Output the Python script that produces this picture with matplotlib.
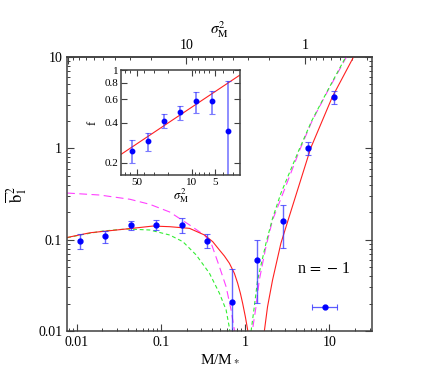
import numpy as np
import matplotlib
matplotlib.use('Agg')
import matplotlib.pyplot as plt
from matplotlib.ticker import FixedLocator, NullFormatter, FixedFormatter, LogLocator

plt.rcParams['font.family'] = ['Liberation Serif', 'DejaVu Serif']
plt.rcParams['mathtext.fontset'] = 'stix'

# --- main panel: measured points (M/M*, b1^2, lower, upper) ---
m_pts = [0.0109, 0.0216, 0.0436, 0.0868, 0.175, 0.348, 0.696, 1.387, 2.79, 5.61, 11.2]
b_pts = [0.0975, 0.109, 0.145, 0.146, 0.145, 0.0975, 0.0209, 0.0599, 0.16, 1.016, 3.62]
b_lo = [0.0784, 0.0919, 0.128, 0.128, 0.117, 0.0804, 0.004, 0.0201, 0.0804, 0.845, 3.03]
b_hi = [0.116, 0.125, 0.161, 0.163, 0.171, 0.116, 0.048, 0.100, 0.24, 1.18, 4.24]

# resolution marker (horizontal bar)
res_m, res_b = 8.78, 0.0182
res_lo, res_hi = 6.26, 12.3

# --- model curves (two branches each) ---
red_m1 = [0.00762, 0.01425, 0.0387, 0.080, 0.126, 0.217, 0.327, 0.410, 0.492, 0.564,
          0.647, 0.741, 0.811, 0.873, 0.929, 1.0, 1.065, 1.10]
red_b1 = [0.1056, 0.119, 0.131, 0.141, 0.1387, 0.133, 0.1125, 0.0950, 0.0771, 0.0662,
          0.0551, 0.0428, 0.0333, 0.0259, 0.0201, 0.01435, 0.0103, 0.007]
red_m2 = [1.62, 1.678, 1.836, 2.105, 2.645, 3.31, 5.99, 10.8, 19.3, 25.0]
red_b2 = [0.006, 0.0098, 0.01845, 0.0361, 0.0912, 0.177, 1.01, 3.65, 10.0, 15.0]

grn_m1 = [0.00762, 0.01086, 0.0205, 0.0387, 0.0731, 0.126, 0.181, 0.261, 0.375, 0.492, 0.591, 0.647, 0.68]
grn_b1 = [0.105, 0.1125, 0.1245, 0.131, 0.1276, 0.1125, 0.0951, 0.0679, 0.0428, 0.0259, 0.0170, 0.0108, 0.007]
grn_m2 = [1.12, 1.168, 1.278, 1.398, 1.758, 2.105, 2.645, 4.40, 6.15, 9.5, 15.6, 20.0]
grn_b2 = [0.006, 0.0098, 0.01845, 0.0361, 0.0912, 0.171, 0.322, 0.99, 2.0, 4.3, 10.0, 15.0]

mag_m1 = [0.00762, 0.0187, 0.0424, 0.0731, 0.126, 0.217, 0.327, 0.393, 0.492, 0.591, 0.677, 0.741, 0.77]
mag_b1 = [0.324, 0.308, 0.277, 0.244, 0.201, 0.145, 0.112, 0.0912, 0.0506, 0.0305, 0.0170, 0.0103, 0.007]
mag_m2 = [1.17, 1.21, 1.339, 1.465, 1.758, 2.105, 2.74, 4.45, 6.2, 9.6, 15.8, 20.0]
mag_b2 = [0.006, 0.01, 0.01845, 0.0361, 0.0838, 0.164, 0.305, 0.97, 1.99, 4.3, 9.9, 15.0]

# top axis: sigma_M^2 as function of M/M*
sig_slope = 0.71
sig_logm1 = 0.7065   # log10(M/M*) where sigma^2 = 1

# --- inset data ---
s2_pts = [57.8, 36.2, 22.7, 14.2, 8.9, 5.57, 3.49]
f_pts = [0.246, 0.291, 0.415, 0.480, 0.581, 0.581, 0.347]
f_lo = [0.198, 0.245, 0.363, 0.420, 0.471, 0.466, 0.05]
f_hi = [0.295, 0.333, 0.463, 0.538, 0.686, 0.695, 0.826]
fit_s2 = [79.1, 2.43]
fit_f = [0.231, 0.917]

BLUE = '#0000ff'
RED = '#ff2020'
GREEN = '#33ee33'
MAG = '#ff40ff'
SPINE = '0.25'

fig = plt.figure(figsize=(4.36, 3.91), dpi=100)
ax = fig.add_axes([67/436, 60/391, 305/436, 274/391])
ax.set_xscale('log')
ax.set_yscale('log')
ax.set_xlim(0.0076, 32)
ax.set_ylim(0.01, 10)

lw = 0.8
ax.plot(mag_m1, mag_b1, color=MAG, lw=lw, dashes=(7, 4))
ax.plot(mag_m2, mag_b2, color=MAG, lw=lw, dashes=(7, 4))
ax.plot(grn_m1, grn_b1, color=GREEN, lw=lw, dashes=(3.5, 2.5))
ax.plot(grn_m2, grn_b2, color=GREEN, lw=lw, dashes=(3.5, 2.5))
ax.plot(red_m1, red_b1, color=RED, lw=lw)
ax.plot(red_m2, red_b2, color=RED, lw=lw)

b_pts_a = np.array(b_pts)
yerr = [b_pts_a - np.array(b_lo), np.array(b_hi) - b_pts_a]
ax.errorbar(m_pts, b_pts, yerr=yerr, fmt='o', color=BLUE, ms=3.5,
            ecolor=(0.2, 0.2, 1.0, 0.75), elinewidth=1.0, capsize=2.5, capthick=0.8)
ax.errorbar([res_m], [res_b], xerr=[[res_m - res_lo], [res_hi - res_m]], fmt='o',
            color=BLUE, ms=3.5, ecolor=(0.2, 0.2, 1.0, 0.8), elinewidth=0.9,
            capsize=2.5, capthick=0.8)

ax.text(8.6, 0.0477, 'n$\\,=\\,-\\,$1', fontsize=11.5, ha='center', va='center')

ax.set_xticks([0.01, 0.1, 1, 10])
ax.set_xticklabels(['0.01', '0.1', '1', '10'])
ax.set_yticks([0.01, 0.1, 1, 10])
ax.set_yticklabels(['0.01', '0.1', '1', '10'])
ax.tick_params(which='both', direction='in', top=False, right=True,
               labelsize=10, color=SPINE)
ax.tick_params(which='major', length=5, width=0.8)
ax.tick_params(which='minor', length=2.5, width=0.7)
for s in ax.spines.values():
    s.set_color(SPINE)
    s.set_linewidth(1.1)

ax.set_xlabel('M/M$_*$', fontsize=11, labelpad=2)
ax.set_ylabel('$\\overline{\\rm b}^{\\,2}_{1}$', fontsize=12)
ax.yaxis.set_label_coords(-0.125, 0.5)


def m_to_s2(m):
    m = np.clip(m, 1e-12, None)
    return 10 ** (-sig_slope * (np.log10(m) - sig_logm1))


def s2_to_m(s):
    s = np.clip(s, 1e-12, None)
    return 10 ** (sig_logm1 - np.log10(s) / sig_slope)


top = ax.secondary_xaxis('top', functions=(m_to_s2, s2_to_m))
top.xaxis.set_major_locator(FixedLocator([100, 10, 1, 0.1]))
top.xaxis.set_major_formatter(FixedFormatter(['', '10', '1', '']))
top.xaxis.set_minor_locator(LogLocator(base=10, subs=np.arange(2, 10), numticks=20))
top.xaxis.set_minor_formatter(NullFormatter())
top.tick_params(which='both', direction='in', labelsize=10, color=SPINE)
top.tick_params(which='major', length=5, width=0.8)
top.tick_params(which='minor', length=2.5, width=0.7)
top.set_xlabel('$\\sigma^2_{\\rm M}$', fontsize=11, labelpad=4)
top.spines['top'].set_color(SPINE)
top.spines['top'].set_linewidth(1.1)

# --- inset ---
ins = fig.add_axes([121/436, 216/391, 119/436, 105/391])
ins.set_xscale('log')
ins.set_yscale('log')
ins.set_xlim(79.1, 2.43)
ins.set_ylim(0.1615, 1.0)
ins.plot(fit_s2, fit_f, color=RED, lw=0.8)
f_a = np.array(f_pts)
ins.errorbar(s2_pts, f_pts, yerr=[f_a - np.array(f_lo), np.array(f_hi) - f_a],
             fmt='o', color=BLUE, ms=3.2, ecolor=(0.2, 0.2, 1.0, 0.65),
             elinewidth=1.2, capsize=2.5, capthick=0.8)
ins.xaxis.set_major_locator(FixedLocator([50, 10, 5]))
ins.xaxis.set_major_formatter(FixedFormatter(['50', '10', '5']))
ins.xaxis.set_minor_locator(FixedLocator([70, 60, 40, 30, 20, 9, 8, 7, 6, 4, 3]))
ins.xaxis.set_minor_formatter(NullFormatter())
ins.yaxis.set_major_locator(FixedLocator([0.2, 0.4, 0.6, 0.8, 1.0]))
ins.yaxis.set_major_formatter(FixedFormatter(['0.2', '0.4', '0.6', '0.8', '1']))
ins.yaxis.set_minor_locator(FixedLocator([]))
ins.tick_params(which='both', direction='in', top=True, right=True,
                labelsize=8, color=SPINE, pad=2)
ins.tick_params(which='major', length=4, width=0.8)
ins.tick_params(which='minor', length=2, width=0.7)
for s in ins.spines.values():
    s.set_color(SPINE)
    s.set_linewidth(1.1)
ins.set_xlabel('$\\sigma^2_{\\rm M}$', fontsize=9, labelpad=0)
ins.set_ylabel('f', fontsize=9, rotation=90, labelpad=4)

fig.savefig('out.png', dpi=100)
